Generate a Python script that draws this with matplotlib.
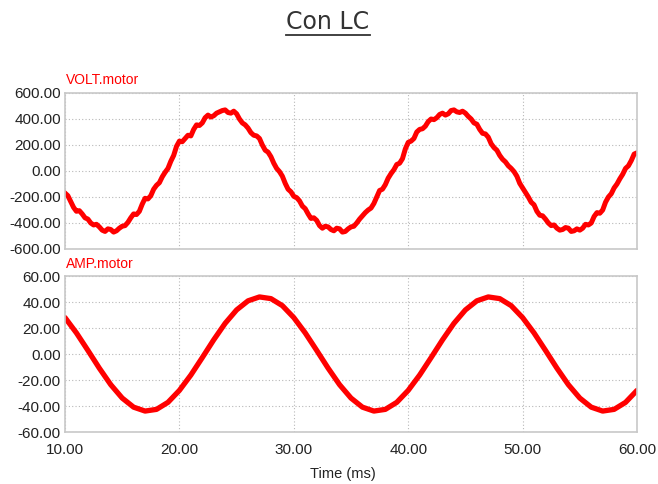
import matplotlib
matplotlib.use("Agg")
import matplotlib.pyplot as plt
from matplotlib.lines import Line2D

# ---- data ----
volt = [
    # 10.00 - 29.75 ms
    -170, -190, -235, -280, -310, -305, -330, -360, -370, -400,
    -415, -410, -430, -455, -465, -445, -450, -470, -460, -440,
    -425, -420, -395, -360, -330, -335, -310, -255, -210, -215,
    -190, -140, -110, -90, -45, -10, 20, 75, 120, 190,
    230, 225, 250, 275, 270, 320, 355, 350, 370, 410,
    430, 415, 425, 445, 455, 465, 470, 450, 445, 460,
    440, 400, 370, 355, 330, 295, 275, 270, 250, 200,
    160, 145, 110, 60, 20, -5, -40, -95, -140, -160,
    # 30.00 - 49.75 ms
    -195, -205, -230, -270, -290, -330, -365, -360, -380, -420,
    -440, -425, -430, -450, -460, -440, -445, -470, -465, -445,
    -430, -425, -400, -370, -345, -320, -300, -285, -250, -200,
    -150, -140, -105, -55, -20, 10, 50, 60, 95, 170,
    220, 230, 250, 300, 320, 325, 345, 380, 400, 395,
    410, 435, 445, 430, 440, 465, 470, 455, 450, 460,
    445, 420, 400, 370, 360, 320, 290, 285, 260, 210,
    180, 160, 120, 90, 70, 40, 20, -5, -40, -95,
    # 50.00 - 60.00 ms
    -130, -165, -200, -240, -260, -310, -340, -345, -370, -400,
    -420, -415, -440, -455, -450, -435, -440, -465, -460, -445,
    -455, -440, -410, -415, -400, -350, -320, -325, -300, -240,
    -200, -175, -130, -100, -60, -25, 20, 40, 80, 130,
    140,
]
time_v = [10 + 0.25 * i for i in range(len(volt))]

time_a = list(range(10, 61))
amp = [
    28.0, 16.2, 2.8, -10.9, -23.6, -33.9, -40.9, -43.9, -42.6, -37.2,
    -28.0, -16.2, -2.8, 10.9, 23.6, 33.9, 40.9, 43.9, 42.6, 37.2,
    28.0, 16.2, 2.8, -10.9, -23.6, -33.9, -40.9, -43.9, -42.6, -37.2,
    -28.0, -16.2, -2.8, 10.9, 23.6, 33.9, 40.9, 43.9, 42.6, 37.2,
    28.0, 16.2, 2.8, -10.9, -23.6, -33.9, -40.9, -43.9, -42.6, -37.2,
    -28.0,
]

volt_ticks = [-600, -400, -200, 0, 200, 400, 600]
amp_ticks = [-60, -40, -20, 0, 20, 40, 60]
time_ticks = [10, 20, 30, 40, 50, 60]

W, H = 658, 484
fig = plt.figure(figsize=(W / 100, H / 100), dpi=100)
fig.patch.set_facecolor("white")

tick_font = ["Liberation Sans", "DejaVu Sans"]


def style(ax):
    ax.set_xlim(10, 60)
    ax.grid(True, color="#b8b8b8", linestyle=(0, (1, 2)), linewidth=0.8)
    for s in ax.spines.values():
        s.set_color("#c8c8c8")
        s.set_linewidth(1.2)
    ax.tick_params(length=0, labelsize=11, colors="#222222", pad=3)
    ax.tick_params(axis="x", pad=8)
    ax.set_xticks(time_ticks)
    for lab in ax.get_yticklabels() + ax.get_xticklabels():
        lab.set_family(tick_font)


ax1 = fig.add_axes([65 / W, 1 - 249 / H, (637 - 65) / W, (249 - 93) / H])
ax1.plot(time_v, volt, color="#ff0000", linewidth=3.6, solid_joinstyle="round")
ax1.set_ylim(-600, 600)
ax1.set_yticks(volt_ticks)
ax1.set_yticklabels([f"{v:.2f}" for v in volt_ticks])
ax1.set_xticklabels([])
style(ax1)

ax2 = fig.add_axes([65 / W, 1 - 432 / H, (637 - 65) / W, (432 - 276) / H])
ax2.plot(time_a, amp, color="#ff0000", linewidth=3.8, solid_capstyle="round")
ax2.set_ylim(-60, 60)
ax2.set_yticks(amp_ticks)
ax2.set_yticklabels([f"{v:.2f}" for v in amp_ticks])
ax2.set_xticklabels([f"{v:.2f}" for v in time_ticks])
style(ax2)

fig.text(66 / W, 1 - 80 / H, "VOLT.motor", color="#ff0000", fontsize=10,
         family=tick_font, ha="left", va="center")
fig.text(66 / W, 1 - 264 / H, "AMP.motor", color="#ff0000", fontsize=10,
         family=tick_font, ha="left", va="center")
fig.text(343 / W, 1 - 474 / H, "Time (ms)", color="#222222", fontsize=10.5,
         family=tick_font, ha="center", va="center")

title = fig.text(328 / W, 1 - 22 / H, "Con LC", color="#333333", fontsize=17,
                 family="DejaVu Sans", ha="center", va="center")
fig.canvas.draw()
bb = title.get_window_extent()
uy = (bb.y0 - 1) / H
fig.add_artist(Line2D([bb.x0 / W, bb.x1 / W], [uy, uy], color="#333333",
                      linewidth=1.3, transform=fig.transFigure))

fig.savefig("out.png", dpi=100)
